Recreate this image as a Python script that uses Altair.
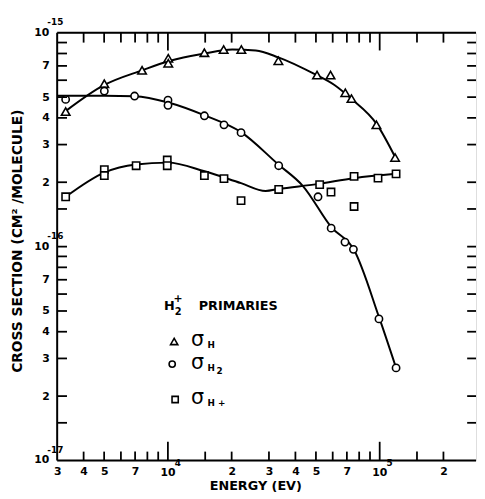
import altair as alt
import pandas as pd

# ---------------- data ----------------
tri_E = [3290, 5010, 7550, 10040, 10040, 14870, 18330, 22220, 33240, 50600, 58600, 68800, 73600, 96500, 118200]
tri_S = [4.28e-16, 5.78e-16, 6.67e-16, 7.60e-16, 7.20e-16, 8.07e-16, 8.35e-16, 8.35e-16, 7.40e-16,
         6.34e-16, 6.34e-16, 5.24e-16, 4.92e-16, 3.71e-16, 2.61e-16]

cir_E = [3290, 5010, 6960, 10010, 10010, 14870, 18400, 22150, 33360, 51150, 59000, 68560, 75150, 99200, 119500]
cir_S = [4.88e-16, 5.34e-16, 5.06e-16, 4.84e-16, 4.58e-16, 4.09e-16, 3.71e-16, 3.41e-16, 2.39e-16,
         1.71e-16, 1.22e-16, 1.05e-16, 9.71e-17, 4.59e-17, 2.71e-17]

sq_E = [3290, 5010, 5010, 7080, 9930, 9930, 14870, 18400, 22150, 33360, 52070, 58900, 75700, 75700, 98200, 119500]
sq_S = [1.71e-16, 2.29e-16, 2.15e-16, 2.39e-16, 2.54e-16, 2.39e-16, 2.15e-16, 2.08e-16, 1.64e-16,
        1.85e-16, 1.95e-16, 1.80e-16, 2.13e-16, 1.54e-16, 2.09e-16, 2.19e-16]

# hand-drawn fitted curves (knots)
tri_curve_E = [3290, 5010, 7600, 10040, 14910, 20120, 25990, 33240, 49370, 61140, 73330, 96850, 118600]
tri_curve_S = [4.30e-16, 5.70e-16, 6.69e-16, 7.36e-16, 8.00e-16, 8.35e-16, 8.27e-16, 7.67e-16, 6.40e-16,
               5.70e-16, 4.92e-16, 3.74e-16, 2.61e-16]
cir_curve_E = [3000, 5010, 6980, 10040, 14910, 22150, 33240, 43420, 59220, 75700, 99200, 119500]
cir_curve_S = [5.08e-16, 5.08e-16, 5.05e-16, 4.72e-16, 4.11e-16, 3.43e-16, 2.42e-16, 1.92e-16, 1.23e-16,
               9.64e-17, 4.69e-17, 2.71e-17]
sq_curve_E = [3290, 5010, 7060, 10000, 14910, 22150, 28930, 33240, 50600, 75700, 119500]
sq_curve_S = [1.71e-16, 2.22e-16, 2.42e-16, 2.47e-16, 2.25e-16, 1.98e-16, 1.82e-16, 1.86e-16, 1.96e-16,
              2.09e-16, 2.19e-16]

# axis ticks and labels
x_minor_ticks = [4000, 5000, 6000, 7000, 8000, 9000, 15000, 20000, 30000, 40000, 50000, 60000,
                 70000, 80000, 90000, 150000, 200000]
x_major_ticks = [10000, 100000]
x_label_values = [3000, 4000, 5000, 7000, 20000, 30000, 40000, 50000, 70000, 200000]
x_decades = [10000, 100000]
x_decade_exp = ["4", "5"]

y_ticks = [1.5e-17, 2e-17, 3e-17, 4e-17, 5e-17, 6e-17, 7e-17, 8e-17, 9e-17, 1e-16,
           1.5e-16, 2e-16, 3e-16, 4e-16, 5e-16, 6e-16, 7e-16, 8e-16, 9e-16]
y_label_values = [2e-17, 3e-17, 4e-17, 5e-17, 7e-17, 2e-16, 3e-16, 4e-16, 5e-16, 7e-16]
y_decades = [1e-17, 1e-16, 1e-15]
y_decade_exp = ["-17", "-16", "-15"]

# ---------------- layout ----------------
W, H = 426, 435
FONT = "DejaVu Sans"
INK = "black"

xscale = alt.Scale(type="log", domain=[3000, 285000], nice=False, zero=False)
yscale = alt.Scale(type="log", domain=[1e-17, 1e-15], nice=False, zero=False)

lab_expr = "round(datum.value / pow(10, floor(log(datum.value) / LN10 + 1e-9)))"
xaxis = alt.Axis(values=x_label_values, labelExpr=lab_expr, ticks=False, domain=False, grid=False,
                 labelFont=FONT, labelFontWeight="bold", labelFontSize=11, labelColor=INK,
                 labelPadding=5, title=None, labelFlush=False, labelOverlap=False)
yaxis = alt.Axis(values=y_label_values, labelExpr=lab_expr, ticks=False, domain=False, grid=False,
                 labelFont=FONT, labelFontWeight="bold", labelFontSize=11, labelColor=INK,
                 labelPadding=8, title=None, labelFlush=False, labelOverlap=False)

X = alt.X("E:Q", scale=xscale, axis=xaxis)
Y = alt.Y("S:Q", scale=yscale, axis=yaxis)


def df(E, S):
    return pd.DataFrame({"E": E, "S": S})


# frame lines (left, bottom, top; right edge falls outside)
frame_df = pd.DataFrame({"k": [0]})
left_line = alt.Chart(frame_df).mark_rule(color=INK, strokeWidth=2).encode(
    x=alt.value(0), y=alt.value(0), y2=alt.value(H))
bottom_line = alt.Chart(frame_df).mark_rule(color=INK, strokeWidth=2).encode(
    x=alt.value(0), x2=alt.value(W), y=alt.value(H))
top_line = alt.Chart(frame_df).mark_rule(color=INK, strokeWidth=2).encode(
    x=alt.value(0), x2=alt.value(W), y=alt.value(0))

xt_minor = pd.DataFrame({"E": x_minor_ticks})
xt_major = pd.DataFrame({"E": x_major_ticks})
yt = pd.DataFrame({"S": y_ticks})

tick_layers = [
    alt.Chart(xt_minor).mark_rule(color=INK, strokeWidth=1.8).encode(x=X, y=alt.value(H), y2=alt.value(H - 9)),
    alt.Chart(xt_major).mark_rule(color=INK, strokeWidth=1.8).encode(x=X, y=alt.value(H), y2=alt.value(H - 19)),
    alt.Chart(xt_minor).mark_rule(color=INK, strokeWidth=1.8).encode(x=X, y=alt.value(0), y2=alt.value(10)),
    alt.Chart(xt_major).mark_rule(color=INK, strokeWidth=1.8).encode(x=X, y=alt.value(0), y2=alt.value(18)),
    alt.Chart(yt).mark_rule(color=INK, strokeWidth=1.8).encode(y=Y, x=alt.value(0), x2=alt.value(10)),
    alt.Chart(yt).mark_rule(color=INK, strokeWidth=1.8).encode(y=Y, x=alt.value(W), x2=alt.value(W - 9)),
]

# decade labels 10^n
xdec = pd.DataFrame({"E": x_decades, "exp": x_decade_exp, "base": ["10", "10"]})
ydec = pd.DataFrame({"S": y_decades, "exp": y_decade_exp, "base": ["10", "10", "10"]})
dec_layers = [
    alt.Chart(xdec).mark_text(font=FONT, fontWeight="bold", fontSize=11, color=INK, baseline="middle",
                              align="center").encode(x=X, y=alt.value(H + 13), text="base:N"),
    alt.Chart(xdec).mark_text(font=FONT, fontWeight="bold", fontSize=9, color=INK, baseline="middle",
                              align="left", dx=7).encode(x=X, y=alt.value(H + 3), text="exp:N"),
    alt.Chart(ydec).mark_text(font=FONT, fontWeight="bold", fontSize=11, color=INK, baseline="middle",
                              align="right").encode(y=Y, x=alt.value(-8), text="base:N"),
    alt.Chart(ydec).mark_text(font=FONT, fontWeight="bold", fontSize=9, color=INK, baseline="middle",
                              align="left", dy=-11).encode(y=Y, x=alt.value(-10), text="exp:N"),
]

# curves
curve_layers = [
    alt.Chart(df(tri_curve_E, tri_curve_S)).mark_line(color=INK, strokeWidth=2, interpolate="monotone").encode(x=X, y=Y),
    alt.Chart(df(cir_curve_E, cir_curve_S)).mark_line(color=INK, strokeWidth=2, interpolate="monotone").encode(x=X, y=Y),
    alt.Chart(df(sq_curve_E, sq_curve_S)).mark_line(color=INK, strokeWidth=2, interpolate="monotone").encode(x=X, y=Y),
]

# markers
pt = dict(filled=True, fill="white", stroke=INK, strokeWidth=1.6, opacity=1, fillOpacity=1)
marker_layers = [
    alt.Chart(df(tri_E, tri_S)).mark_point(shape="triangle-up", size=75, **pt).encode(x=X, y=Y),
    alt.Chart(df(cir_E, cir_S)).mark_point(shape="circle", size=55, **pt).encode(x=X, y=Y),
    alt.Chart(df(sq_E, sq_S)).mark_point(shape="square", size=55, **pt).encode(x=X, y=Y),
]

# legend / annotation block
one = pd.DataFrame({"k": [0]})


def txt(s, x, y, size, weight="bold", align="left", angle=0):
    kw = dict(font=FONT, fontWeight=weight, fontSize=size, color=INK, baseline="middle", align=align)
    if angle:
        kw["angle"] = angle
    return alt.Chart(one).mark_text(text=s, **kw).encode(x=alt.value(x), y=alt.value(y))


def sym(shape, x, y, size):
    return alt.Chart(one).mark_point(shape=shape, size=size, **pt).encode(x=alt.value(x), y=alt.value(y))


legend_layers = [
    txt("H", 114, 278, 13, align="center"),
    txt("+", 123, 271, 11, align="center"),
    txt("2", 123, 284, 10, align="center"),
    txt("PRIMARIES", 144, 278, 13),
    sym("triangle-up", 119, 314, 55),
    txt("σ", 136, 313, 21, weight="normal"),
    txt("H", 153, 318, 9),
    sym("circle", 117, 337, 40),
    txt("σ", 136, 336, 21, weight="normal"),
    txt("H", 153, 341, 9),
    txt("2", 162, 344, 9),
    sym("square", 120, 373, 40),
    txt("σ", 136, 372, 21, weight="normal"),
    txt("H +", 153, 377, 9),
    # axis titles
    txt("ENERGY (EV)", 202, 461, 13, align="center"),
    txt("CROSS SECTION (CM² /MOLECULE)", -40, 212, 14, align="center", angle=270),
]

chart = alt.layer(
    *curve_layers, *marker_layers, left_line, bottom_line, top_line, *tick_layers, *dec_layers, *legend_layers
).properties(
    width=W, height=H,
    padding={"left": 50, "top": 21, "right": 1, "bottom": 35},
    autosize=alt.AutoSizeParams(type="none"),
).configure_view(stroke=None).configure(background="white")

chart.save("out.html", embed_options={"renderer": "svg", "actions": False})
